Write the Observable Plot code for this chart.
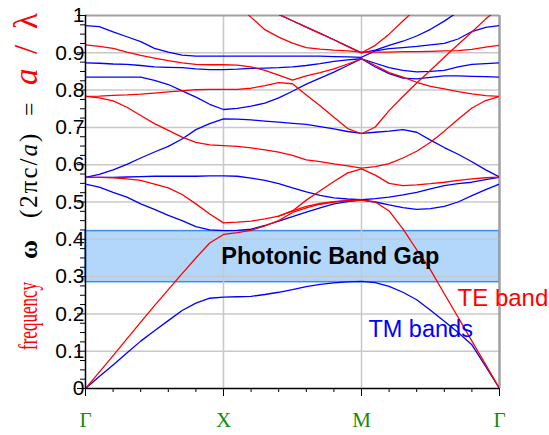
<!DOCTYPE html>
<html>
<head>
<meta charset="utf-8">
<script src="https://cdn.jsdelivr.net/npm/d3@7"></script>
<script src="https://cdn.jsdelivr.net/npm/@observablehq/plot@0.6"></script>
<style>
  html, body { margin: 0; padding: 0; background: #fff; }
  #chart svg { display: block; }
</style>
</head>
<body>
<div id="chart"></div>
<script>
// ---- data ----
const kGrid = [0,0.5,1,1.5,2,2.5,3,3.5,4,4.5,5,5.5,6,6.5,7,7.5,8,8.5,9,9.5,10,10.5,11,11.5,12,12.5,13,13.5,14,14.5,15];
const pathTicks = [0, 5, 10, 15];
const pathLabels = ["Γ", "X", "M", "Γ"];
const minorK = [0,1,2,3,4,5,6,7,8,9,10,11,12,13,14,15];
const yTicks = [0,0.1,0.2,0.3,0.4,0.5,0.6,0.7,0.8,0.9,1];
const yTickLabels = ["0","0.1","0.2","0.3","0.4","0.5","0.6","0.7","0.8","0.9","1"];
const yMinor = [0.025,0.05,0.075,0.125,0.15,0.175,0.225,0.25,0.275,0.325,0.35,0.375,0.425,0.45,0.475,0.525,0.55,0.575,0.625,0.65,0.675,0.725,0.75,0.775,0.825,0.85,0.875,0.925,0.95,0.975];
const gridY = [0.1,0.2,0.3,0.4,0.5,0.6,0.7,0.8,0.9];
const gapEdges = [0.285, 0.422];

// TM bands (blue)
const tm1 = [0,0.032,0.063,0.095,0.127,0.155,0.182,0.209,0.229,0.242,0.245,
  0.246,0.247,0.252,0.258,0.265,0.273,0.279,0.283,0.286,0.287,
  0.284,0.274,0.258,0.238,0.210,0.180,0.150,0.117,0.059,0];
const tm2 = [0.548,0.540,0.526,0.513,0.495,0.480,0.464,0.450,0.434,0.425,0.423,
  0.424,0.427,0.437,0.449,0.461,0.473,0.484,0.495,0.501,0.505,
  0.500,0.492,0.485,0.480,0.482,0.488,0.500,0.517,0.533,0.548];
const tm3 = [0.566,0.566,0.566,0.567,0.568,0.569,0.569,0.569,0.569,0.570,0.570,
  0.569,0.564,0.558,0.549,0.538,0.527,0.518,0.511,0.508,0.506,
  0.509,0.513,0.519,0.526,0.535,0.544,0.549,0.553,0.560,0.566];
const tm4 = [0.566,0.574,0.586,0.601,0.618,0.634,0.649,0.669,0.694,0.710,0.723,
  0.722,0.720,0.717,0.714,0.711,0.708,0.702,0.696,0.689,0.684,
  0.687,0.690,0.694,0.687,0.666,0.646,0.628,0.608,0.586,0.567];
const tm5 = [0.835,0.835,0.835,0.835,0.835,0.826,0.815,0.798,0.781,0.762,0.748,
  0.751,0.757,0.765,0.779,0.797,0.816,0.832,0.848,0.866,0.884,
  0.862,0.844,0.832,0.830,0.834,0.838,0.838,0.837,0.836,0.835];
const tm6 = [0.873,0.872,0.870,0.869,0.866,0.862,0.861,0.860,0.857,0.855,0.855,
  0.856,0.858,0.859,0.860,0.862,0.866,0.871,0.877,0.881,0.884,
  0.872,0.860,0.853,0.849,0.850,0.853,0.862,0.869,0.871,0.873];
const tm7 = [0.973,0.970,0.956,0.943,0.930,0.912,0.902,0.894,0.891,0.891,0.891,
  0.891,0.891,0.891,0.891,0.891,0.891,0.891,0.890,0.889,0.888,
  0.905,0.911,0.914,0.917,0.921,0.925,0.937,0.957,0.968,0.973];
const tm8 = [null,null,null,null,null,null,null,null,null,null,1.07,
  1.055,1.04,1.02,1.003,0.986,0.969,0.952,0.935,0.917,0.900,
  0.907,0.920,0.931,0.945,0.963,0.985,1.01,1.04,null,null];

// TE bands (red)
const te1 = [0,0.044,0.088,0.133,0.178,0.222,0.265,0.308,0.350,0.390,0.413,
  0.418,0.424,0.436,0.450,0.472,0.484,0.494,0.500,0.503,0.505,
  0.500,0.476,0.428,0.372,0.318,0.254,0.191,0.127,0.064,0];
const te2 = [0.566,0.566,0.565,0.562,0.558,0.548,0.538,0.520,0.495,0.468,0.444,
  0.446,0.449,0.455,0.462,0.476,0.505,0.530,0.555,0.578,0.589,
  0.572,0.550,0.544,0.546,0.549,0.553,0.558,0.562,0.565,0.567];
const te3 = [null,null,null,null,null,null,null,null,null,null,null,
  null,null,null,0.462,0.476,0.488,0.496,0.501,0.504,0.505,
  null,null,null,null,null,null,null,null,null,null];
const te4 = [0.783,0.779,0.771,0.754,0.732,0.710,0.692,0.674,0.660,0.653,0.651,
  0.649,0.645,0.640,0.634,0.625,0.613,0.608,0.602,0.597,0.591,
  0.595,0.603,0.618,0.636,0.660,0.690,0.722,0.752,0.772,0.783];
const te5 = [0.783,0.784,0.786,0.787,0.789,0.792,0.795,0.798,0.801,0.802,0.802,
  0.802,0.805,0.812,0.820,0.817,0.787,0.758,0.727,0.697,0.683,
  0.701,0.745,0.783,0.819,0.853,0.888,0.922,0.956,0.991,1.02];
const te6 = [0.921,0.917,0.912,0.902,0.893,0.886,0.879,0.873,0.869,0.868,0.868,
  0.867,0.862,0.853,0.840,0.827,0.838,0.847,0.857,0.870,0.884,
  0.866,0.847,0.835,0.821,0.810,0.803,0.796,0.790,0.785,0.783];
const te7 = [null,null,null,null,null,null,null,null,null,null,1.07,
  1.03,0.995,0.962,0.942,0.926,0.914,0.910,0.907,0.905,0.902,
  0.902,0.902,0.903,0.903,0.904,0.905,0.906,0.909,0.915,0.920];
const te8 = [null,null,null,null,null,null,null,null,null,null,1.07,
  1.055,1.04,1.02,1.003,0.986,0.969,0.952,0.935,0.917,0.900,
  0.920,0.950,0.985,1.02,null,null,null,null,null,null];

const tmBands = [tm1, tm2, tm3, tm4, tm5, tm6, tm7, tm8];
const teBands = [te1, te2, te3, te4, te5, te6, te7, te8];

// ---- chart ----
const sans = "'Liberation Sans', Arial, Helvetica, sans-serif";
const serif = "'Liberation Serif', 'Times New Roman', serif";
const bandRows = vals => kGrid.map((k, i) => ({k, f: vals[i]})).filter(d => d.f != null);
const gapRow = [{x1: pathTicks[0], x2: pathTicks[pathTicks.length - 1], y1: gapEdges[0], y2: gapEdges[1]}];

const chart = Plot.plot({
  width: 549,
  height: 435,
  marginLeft: 85,
  marginRight: 50,
  marginTop: 15,
  marginBottom: 47,
  style: {background: "#fff", overflow: "visible"},
  x: {domain: [pathTicks[0], pathTicks[pathTicks.length - 1]]},
  y: {domain: [0, 1]},
  marks: [
    Plot.rect(gapRow, {x1: "x1", x2: "x2", y1: "y1", y2: "y2", fill: "#b3d7fa", stroke: "#3b8de6", strokeWidth: 1.5}),
    Plot.ruleY(gridY, {stroke: "#c8c8c8", strokeWidth: 1.5}),
    Plot.ruleX([pathTicks[1], pathTicks[2]], {stroke: "#c8c8c8", strokeWidth: 1.5}),
    Plot.ruleY([1], {stroke: "#a0a0a0", strokeWidth: 2}),
    Plot.ruleX([pathTicks[3]], {stroke: "#a0a0a0", strokeWidth: 2.5}),
    ...tmBands.map(b => Plot.line(bandRows(b), {x: "k", y: "f", stroke: "#0000ff", strokeWidth: 1.3, clip: true})),
    ...teBands.map(b => Plot.line(bandRows(b), {x: "k", y: "f", stroke: "#ff0000", strokeWidth: 1.3, clip: true})),
    Plot.ruleX([pathTicks[0]], {stroke: "#000", strokeWidth: 1.5}),
    Plot.ruleY([0], {stroke: "#000", strokeWidth: 1.5}),
    Plot.axisY({ticks: yMinor, tickSize: 5, tickFormat: () => "", label: null, stroke: "#000"}),
    Plot.axisY({ticks: yTicks, tickSize: 8, tickPadding: -7, label: null, stroke: "#000",
      tickFormat: d => yTickLabels[yTicks.indexOf(d)], fontSize: 21, fontFamily: sans, fill: "#000"}),
    Plot.axisX({ticks: minorK, tickSize: 4, tickFormat: () => "", label: null, stroke: "#000"}),
    Plot.axisX({ticks: pathTicks, tickSize: 8, tickFormat: () => "", label: null, stroke: "#000"}),
    Plot.axisX({ticks: pathTicks, tickSize: 0, tickPadding: 24, label: null,
      tickFormat: d => pathLabels[pathTicks.indexOf(d)], fontSize: 21, fontFamily: serif, fill: "#138a13"}),
    Plot.text(["Photonic Band Gap"], {x: 8.87, y: (gapEdges[0] + gapEdges[1]) / 2, text: d => d,
      fontSize: 23.5, fontWeight: "bold", fontFamily: sans, fill: "#000"}),
    Plot.text(["TE band"], {x: 13.48, y: 0.243, text: d => d, textAnchor: "start",
      fontSize: 24, fontFamily: sans, fill: "#ff0000"}),
    Plot.text(["TM bands"], {x: 10.25, y: 0.158, text: d => d, textAnchor: "start",
      fontSize: 23.5, fontFamily: sans, fill: "#0000ff"})
  ]
});

document.getElementById("chart").appendChild(chart);

// rotated, multi-coloured y-axis title, placed piece by piece
const svg = d3.select(chart);
function vtext(y, size, parts, opts = {}) {
  const t = svg.append("text")
    .attr("transform", `translate(${opts.x || 37},${y}) rotate(-90)`)
    .attr("text-anchor", "start")
    .attr("font-family", serif)
    .attr("font-size", size)
    .attr("fill", "#000");
  if (opts.len) t.attr("textLength", opts.len).attr("lengthAdjust", "spacingAndGlyphs");
  if (opts.spacing) t.attr("letter-spacing", opts.spacing);
  parts.forEach(p => {
    const s = t.append("tspan").text(p.t);
    if (p.fill) s.attr("fill", p.fill);
    if (p.italic) s.attr("font-style", "italic");
    if (p.bold) s.attr("font-weight", "bold");
  });
}
vtext(350, 27, [{t: "frequency", fill: "#ff0000"}], {len: 68});
vtext(259, 26, [{t: "ω", bold: true}]);
vtext(218, 25, [{t: "(2πc/"}, {t: "a", italic: true}, {t: ")"}], {spacing: 2});
vtext(116, 24, [{t: "="}]);
vtext(85, 33, [{t: "a", italic: true, fill: "#ff0000"}]);
vtext(54, 33, [{t: "/", fill: "#ff0000"}]);
vtext(29, 33, [{t: "λ", fill: "#ff0000"}]);
</script>
</body>
</html>
